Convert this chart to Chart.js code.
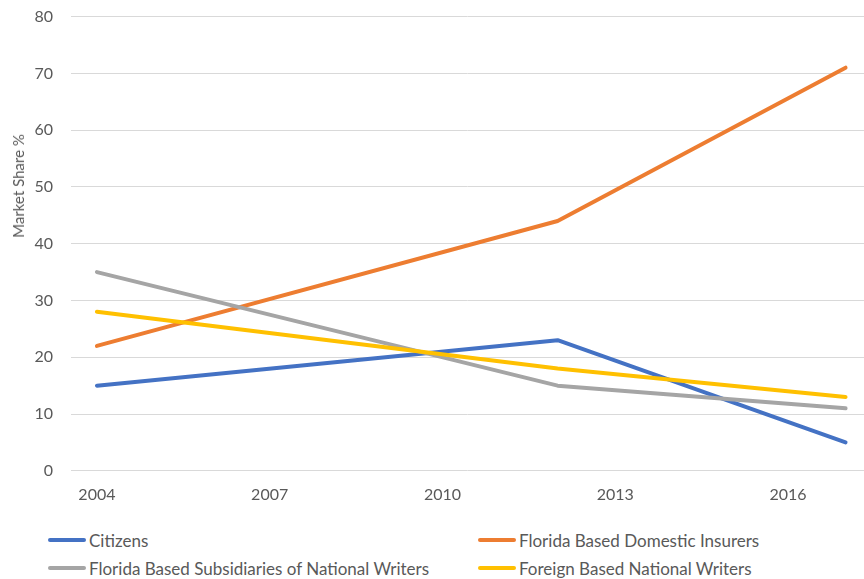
<!DOCTYPE html>
<html>
<head>
<meta charset="utf-8">
<script src="https://cdn.jsdelivr.net/npm/chart.js@4"></script>
<style>
  body { margin: 0; background: #fff; }
  .wrap { position: relative; width: 864px; height: 579px; overflow: hidden; }
  .chart-box { position: absolute; left: 0; top: -11px; width: 864px; height: 536px; }
  .axis-title {
    position: absolute; left: 18px; top: 186px;
    transform: translate(-50%, -50%) rotate(-90deg);
    font-family: Lato, sans-serif; font-size: 15px; color: #595959; white-space: nowrap;
  }
  .legend { position: absolute; left: 0; top: 0; font-family: Lato, sans-serif; font-size: 17px; color: #595959; }
  .legend .item { position: absolute; display: flex; align-items: center; white-space: nowrap; }
  .legend .swatch { display: inline-block; width: 38px; height: 4px; border-radius: 2px; margin-right: 3px; }
</style>
</head>
<body>
<div class="wrap">
  <div class="chart-box"><canvas id="share"></canvas></div>
  <div class="axis-title">Market Share %</div>
  <div class="legend" id="legend"></div>
</div>
<script>
// Market share by group, readings for the survey years
const years = [2004, 2012, 2017];
const tickYears = [2004, 2007, 2010, 2013, 2016];
const citizens = [15, 23, 5];
const domestic = [22, 44, 71];
const subsidiaries = [35, 15, 11];
const foreign = [28, 18, 13];

const seriesNames = [
  'Citizens',
  'Florida Based Domestic Insurers',
  'Florida Based Subsidiaries of National Writers',
  'Foreign Based National Writers',
];
const seriesValues = [citizens, domestic, subsidiaries, foreign];
const colors = ['#4472C4', '#ED7D31', '#A5A5A5', '#FFC000'];

const textColor = '#595959';
const font = 'Lato, sans-serif';

const datasets = seriesNames.map((name, i) => ({
  label: name,
  data: years.map((yr, j) => ({ x: yr, y: seriesValues[i][j] })),
  borderColor: colors[i],
  backgroundColor: colors[i],
  borderWidth: 4,
  borderCapStyle: 'round',
  borderJoinStyle: 'round',
  pointRadius: 0,
  tension: 0,
  // later series sit on top
  order: seriesNames.length - i,
}));

new Chart(document.getElementById('share'), {
  type: 'line',
  data: { datasets: datasets },
  options: {
    responsive: true,
    maintainAspectRatio: false,
    animation: false,
    layout: { padding: { top: 6, right: 0, bottom: 7, left: 0 } },
    plugins: {
      legend: { display: false },
      tooltip: { enabled: false },
    },
    scales: {
      x: {
        type: 'linear',
        min: 2003.55,
        max: 2017.32,
        grid: { display: false, drawTicks: false },
        border: { display: false },
        afterBuildTicks: (scale) => {
          scale.ticks = tickYears.map((v) => ({ value: v }));
        },
        ticks: {
          padding: 14,
          color: textColor,
          font: { family: font, size: 16 },
          callback: (v) => String(v),
        },
      },
      y: {
        min: 0,
        max: 80,
        grid: { color: '#d9d9d9', lineWidth: 1, drawTicks: false },
        border: { display: false },
        ticks: {
          stepSize: 10,
          padding: 18,
          color: textColor,
          font: { family: font, size: 16 },
        },
        afterFit: (scale) => {
          scale.width = 71;
        },
      },
    },
  },
});

// Legend laid out in two columns under the axis
const legendPos = [
  { left: 48, top: 540 },
  { left: 478, top: 540 },
  { left: 48, top: 568 },
  { left: 478, top: 568 },
];
const legend = document.getElementById('legend');
seriesNames.forEach((name, i) => {
  const item = document.createElement('div');
  item.className = 'item';
  item.style.left = legendPos[i].left + 'px';
  item.style.top = legendPos[i].top - 10 + 'px';
  item.style.height = '20px';
  const sw = document.createElement('span');
  sw.className = 'swatch';
  sw.style.background = colors[i];
  const label = document.createElement('span');
  label.textContent = name;
  item.appendChild(sw);
  item.appendChild(label);
  legend.appendChild(item);
});
</script>
</body>
</html>
